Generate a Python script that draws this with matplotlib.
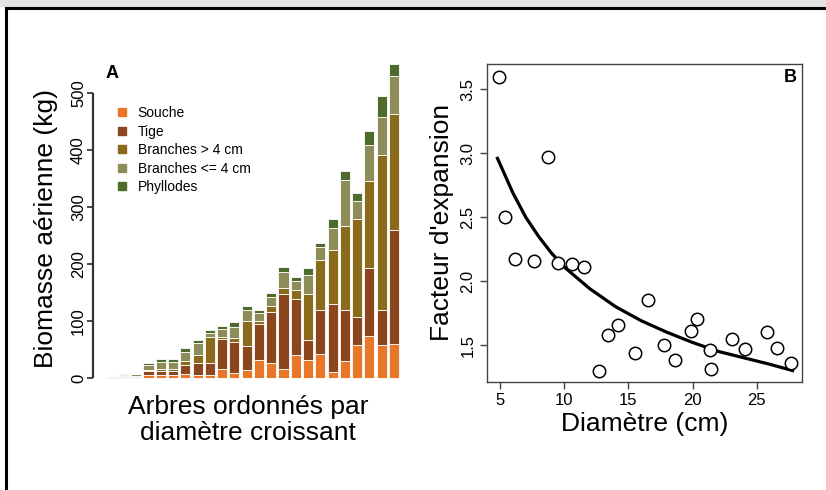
import numpy as np
import matplotlib
matplotlib.use('Agg')
import matplotlib.pyplot as plt
from matplotlib.lines import Line2D
from matplotlib.patches import Rectangle

plt.rcParams['font.family'] = ['Liberation Sans', 'DejaVu Sans']

# --- panel A : biomasse par compartiment (kg), arbres tries par diametre
souche = [0.8, 1.5, 1.5, 6, 6, 6, 7, 6, 6, 16, 9, 15, 32, 27, 16, 40, 32, 43, 11, 30, 58, 74, 58, 60]
tige = [1, 3, 3, 6, 7, 6, 16, 20, 20, 53, 54, 41, 64, 89, 131, 99, 36, 77, 119, 90, 50, 120, 62, 200]
branches_gros = [0, 0, 0, 3, 3, 4, 8, 14, 46, 3, 8, 45, 5, 11, 12, 16, 79, 88, 95, 147, 171, 151, 272, 203]
branches_fines = [2, 2, 3, 8, 13, 12, 16, 22, 8, 14, 19, 19, 13, 16, 28, 15, 34, 22, 38, 81, 31, 63, 66, 66]
phyllodes = [0.5, 0.5, 0.5, 4, 5, 6, 6, 5, 5, 6, 8, 7, 6, 6, 8, 7, 12, 8, 16, 16, 15, 25, 36, 21]

noms = ['Souche', 'Tige', 'Branches > 4 cm', 'Branches <= 4 cm', 'Phyllodes']
couleurs = ['#E8772A', '#8B461D', '#8A6A1B', '#8E8C58', '#4F6B2B']

# --- panel B : facteur d'expansion vs diametre
diam = [4.92, 5.39, 6.17, 7.68, 8.77, 9.49, 10.58, 11.57, 12.74, 13.39, 14.22, 15.52,
        16.56, 17.78, 18.64, 19.86, 20.38, 21.36, 21.44, 23.1, 24.09, 25.78, 26.61, 27.68]
facteur = [3.60, 2.50, 2.17, 2.16, 2.97, 2.14, 2.13, 2.11, 1.30, 1.58, 1.66, 1.44,
           1.85, 1.50, 1.38, 1.61, 1.70, 1.46, 1.31, 1.55, 1.47, 1.60, 1.48, 1.36]
# courbe ajustee
courbe_x = [4.8, 6, 7, 8, 9, 10, 12, 14, 16, 18, 20, 22, 24, 26, 27.8]
courbe_y = [2.96, 2.69, 2.50, 2.35, 2.22, 2.11, 1.94, 1.80, 1.69, 1.60, 1.52, 1.45, 1.40, 1.35, 1.30]

W, H = 826, 490
fig = plt.figure(figsize=(W / 100, H / 100), dpi=100)

def frac(x0, y0, x1, y1):
    # pixels -> fractions de figure
    return [x0 / W, 1 - y1 / H, (x1 - x0) / W, (y1 - y0) / H]

# cadre
fig.patches.append(Rectangle((0, 1 - 6.5 / H), 1, 6.5 / H, transform=fig.transFigure,
                             color='#E2E3E2', zorder=0))
fig.lines.append(Line2D([5.5 / W, 1], [1 - 8 / H, 1 - 8 / H], transform=fig.transFigure,
                        color='black', lw=2.2))
fig.lines.append(Line2D([5.5 / W, 5.5 / W], [0, 1 - 8 / H], transform=fig.transFigure,
                        color='black', lw=2.2))

# ---------------- A
axA = fig.add_axes(frac(93, 60, 405, 385))
idx = np.arange(len(souche))
bas = np.zeros(len(souche))
series = [souche, tige, branches_gros, branches_fines, phyllodes]
for vals, c in zip(series, couleurs):
    v = np.array(vals, dtype=float)
    axA.bar(idx, v, bottom=bas, width=0.82, color=c, edgecolor='white', linewidth=0.6)
    bas += v

axA.set_xlim(-1.52, 23.9)
axA.set_ylim(-11.7, 557.8)
for s in axA.spines.values():
    s.set_visible(False)
axA.set_xticks([])
axA.set_yticks([0, 100, 200, 300, 400, 500])
axA.tick_params(axis='y', length=4, width=1.2, labelsize=12, pad=1, colors='#2b2b2b',
                labelcolor='black')
for t in axA.get_yticklabels():
    t.set_rotation(90)
    t.set_va('center')
# axe y facon R : trait de 0 a 500 seulement
axA.vlines(-1.52, 0, 500, colors='#333333', linewidth=1.6, clip_on=False, zorder=10)
axA.text(0.04, 0.985, 'A', transform=axA.transAxes, fontsize=13, fontweight='bold',
         ha='left', va='top')

handles = [Line2D([], [], marker='s', ls='', color=c, markersize=6) for c in couleurs]
axA.legend(handles, noms, loc='upper left', bbox_to_anchor=(0.05, 0.88), frameon=False,
           fontsize=10, handletextpad=0.6, labelspacing=0.33, handlelength=1.0,
           borderpad=0)

fig.text(46 / W, 1 - 228 / H, 'Biomasse aérienne (kg)', rotation=90, ha='center',
         va='center', fontsize=19)
fig.text(248 / W, 1 - 420 / H, 'Arbres ordonnés par\ndiamètre croissant', ha='center',
         va='center', fontsize=19, linespacing=1.15)

# ---------------- B
axB = fig.add_axes(frac(486.7, 64, 801.7, 381.7))
axB.scatter(diam, facteur, s=80, facecolors='white', edgecolors='black', linewidths=1.1,
            zorder=3)
axB.plot(courbe_x, courbe_y, color='black', lw=2.3, zorder=2)
axB.set_xlim(3.96, 28.51)
axB.set_ylim(1.213, 3.698)
axB.set_xticks([5, 10, 15, 20, 25])
axB.set_yticks([1.5, 2.0, 2.5, 3.0, 3.5])
axB.set_yticklabels(['1.5', '2.0', '2.5', '3.0', '3.5'])
for s in axB.spines.values():
    s.set_color('#444444')
    s.set_linewidth(1.0)
axB.tick_params(length=5, width=1.0, labelsize=12, pad=3, colors='#444444',
                labelcolor='black')
for t in axB.get_yticklabels():
    t.set_rotation(90)
    t.set_va('center')
axB.text(0.985, 0.985, 'B', transform=axB.transAxes, fontsize=13, fontweight='bold',
         ha='right', va='top')
axB.set_xlabel('Diamètre (cm)', fontsize=19, labelpad=3)
axB.set_ylabel("Facteur d'expansion", fontsize=19, labelpad=5)

fig.savefig('out.png', dpi=100)
